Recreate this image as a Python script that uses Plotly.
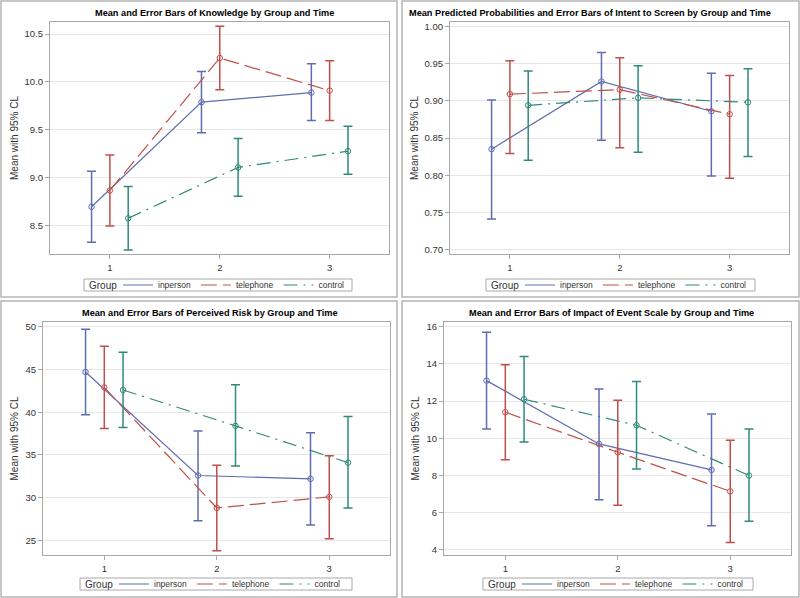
import plotly.graph_objects as go

W, H = 800, 598

times = [1, 2, 3]
groups = ["inperson", "telephone", "control"]

# Knowledge
know_mean = {"inperson": [8.70, 9.79, 9.89], "telephone": [8.87, 10.25, 9.91], "control": [8.58, 9.11, 9.28]}
know_upper = {"inperson": [9.07, 10.11, 10.19], "telephone": [9.24, 10.58, 10.22], "control": [8.91, 9.41, 9.54]}
know_lower = {"inperson": [8.33, 9.47, 9.60], "telephone": [8.50, 9.92, 9.60], "control": [8.25, 8.81, 9.04]}

# Intent to screen
intent_mean = {"inperson": [0.835, 0.926, 0.886], "telephone": [0.909, 0.915, 0.882], "control": [0.894, 0.904, 0.898]}
intent_upper = {"inperson": [0.901, 0.965, 0.937], "telephone": [0.954, 0.958, 0.934], "control": [0.940, 0.947, 0.943]}
intent_lower = {"inperson": [0.741, 0.847, 0.799], "telephone": [0.829, 0.837, 0.796], "control": [0.820, 0.831, 0.825]}

# Perceived risk
risk_mean = {"inperson": [44.7, 32.6, 32.2], "telephone": [42.9, 28.8, 30.1], "control": [42.6, 38.4, 34.1]}
risk_upper = {"inperson": [49.7, 37.8, 37.6], "telephone": [47.7, 33.8, 34.9], "control": [47.0, 43.2, 39.5]}
risk_lower = {"inperson": [39.7, 27.3, 26.8], "telephone": [38.1, 23.8, 25.2], "control": [38.2, 33.7, 28.8]}

# Impact of event scale
impact_mean = {"inperson": [13.1, 9.7, 8.3], "telephone": [11.4, 9.25, 7.15], "control": [12.1, 10.7, 8.0]}
impact_upper = {"inperson": [15.7, 12.65, 11.3], "telephone": [13.95, 12.05, 9.9], "control": [14.4, 13.05, 10.5]}
impact_lower = {"inperson": [10.5, 6.7, 5.3], "telephone": [8.85, 6.4, 4.4], "control": [9.8, 8.35, 5.55]}

titles = [
    "Mean and Error Bars of Knowledge by Group and Time",
    "Mean Predicted Probabilities and Error Bars of Intent to Screen by Group and Time",
    "Mean and Error Bars of Perceived Risk by Group and Time",
    "Mean and Error Bars of Impact of Event Scale by Group and Time",
]
y_title = "Mean with 95% CL"
legend_title = "Group"

FONT = "Liberation Sans, Arial, sans-serif"
colors = {"inperson": "#5f6db0", "telephone": "#c0504a", "control": "#2f8a7b"}
dashes = {"inperson": "solid", "telephone": "16px,6px", "control": "14px,6px,2px,6px"}
offsets = {"inperson": -1/6, "telephone": 0.0, "control": 1/6}

def px_x(p):
    return p / W

def px_y(p):
    return 1 - p / H

# leg = (box left, box right, box center y)
panels = [
    dict(mean=know_mean, up=know_upper, lo=know_lower, yr=[8.208, 10.625], dt=0.5, fmt=".1f",
         xd=[50, 389], yd=[22, 254], box=[1, 1, 397, 297], title_c=(214, 13), leg=(84, 352, 285)),
    dict(mean=intent_mean, up=intent_upper, lo=intent_lower, yr=[0.694, 1.006], dt=0.05, fmt=".2f",
         xd=[450, 789], yd=[22, 254], box=[402, 1, 799, 297], title_c=(590, 13), leg=(486, 755, 285)),
    dict(mean=risk_mean, up=risk_upper, lo=risk_lower, yr=[23.3, 50.55], dt=5, fmt="d",
         xd=[43, 390], yd=[322, 555], box=[1, 301, 397, 597], title_c=(210, 313), leg=(80, 352, 584)),
    dict(mean=impact_mean, up=impact_upper, lo=impact_lower, yr=[3.73, 16.25], dt=2, fmt="d",
         xd=[444, 791], yd=[322, 555], box=[402, 301, 799, 597], title_c=(611, 313), leg=(483, 753, 584)),
]

fig = go.Figure()
layout = dict(
    width=W, height=H, margin=dict(l=0, r=0, t=0, b=0, autoexpand=False),
    paper_bgcolor="white", plot_bgcolor="white",
    font=dict(family=FONT, size=9, color="#333333"),
    shapes=[], annotations=[],
)

for i, p in enumerate(panels):
    n = i + 1
    xa = "x" if n == 1 else f"x{n}"
    ya = "y" if n == 1 else f"y{n}"
    lg = "legend" if n == 1 else f"legend{n}"
    for g in groups:
        xs = [t + offsets[g] for t in times]
        m = p["mean"][g]
        up = [u - v for u, v in zip(p["up"][g], m)]
        lo = [v - l for l, v in zip(p["lo"][g], m)]
        fig.add_trace(go.Scatter(
            x=xs, y=m, mode="lines+markers", name=g, legend=lg,
            xaxis=xa, yaxis=ya,
            line=dict(color=colors[g], width=1.2, dash=dashes[g]),
            marker=dict(symbol="circle-open", size=5.5, color=colors[g], line=dict(width=1)),
            error_y=dict(type="data", array=up, arrayminus=lo, symmetric=False,
                         color=colors[g], thickness=1.5, width=4.5),
            showlegend=False,
        ))
        # legend entry (line sample only)
        fig.add_trace(go.Scatter(
            x=[None], y=[None], mode="lines", name=g, legend=lg,
            xaxis=xa, yaxis=ya,
            line=dict(color=colors[g], width=1.2, dash=dashes[g]),
            showlegend=True, hoverinfo="skip",
        ))
    axkey_x = "xaxis" if n == 1 else f"xaxis{n}"
    axkey_y = "yaxis" if n == 1 else f"yaxis{n}"
    layout[axkey_x] = dict(
        domain=[px_x(p["xd"][0]), px_x(p["xd"][1])], anchor=ya,
        range=[0.455, 3.54], tickvals=times, ticktext=[str(t) for t in times],
        showgrid=False, zeroline=False, showline=True, linecolor="#a8a8a8", linewidth=1.2,
        mirror=True, ticks="outside", ticklen=4, tickcolor="#a8a8a8",
        tickfont=dict(size=9.5, color="#333333"), automargin=False,
    )
    layout[axkey_y] = dict(
        domain=[px_y(p["yd"][1]), px_y(p["yd"][0])], anchor=xa,
        range=p["yr"], dtick=p["dt"], tickformat=p["fmt"],
        showgrid=True, gridcolor="#e6e6e6", gridwidth=1, zeroline=False,
        showline=True, linecolor="#a8a8a8", linewidth=1.2, mirror=True,
        ticks="outside", ticklen=4, tickcolor="#a8a8a8",
        tickfont=dict(size=9.5, color="#333333"), automargin=False,
        title=dict(text=y_title, font=dict(size=10, color="#333333"), standoff=4),
    )
    bl, br, bc = p["leg"]
    layout[lg] = dict(
        orientation="h", x=px_x(bl + 34), y=px_y(bc),
        xanchor="left", yanchor="middle", valign="middle",
        borderwidth=0, bgcolor="rgba(0,0,0,0)",
        font=dict(size=8.5, color="#333333"), itemwidth=30,
        tracegroupgap=0,
    )
    # legend frame and title
    layout["shapes"].append(dict(
        type="rect", xref="paper", yref="paper",
        x0=px_x(bl), x1=px_x(br), y0=px_y(bc + 6), y1=px_y(bc - 6),
        line=dict(color="#a8a8a8", width=1), fillcolor="white", layer="below",
    ))
    layout["annotations"].append(dict(
        text=legend_title, xref="paper", yref="paper",
        x=px_x(bl + 3), y=px_y(bc), xanchor="left", yanchor="middle", showarrow=False,
        font=dict(size=10, color="#333333", family=FONT),
    ))
    b = p["box"]
    layout["shapes"].append(dict(
        type="rect", xref="paper", yref="paper",
        x0=px_x(b[0]), x1=px_x(b[2]), y0=px_y(b[3]), y1=px_y(b[1]),
        line=dict(color="#b4b4b4", width=1.5), fillcolor="rgba(0,0,0,0)", layer="below",
    ))
    layout["annotations"].append(dict(
        text=f"<b>{titles[i]}</b>", xref="paper", yref="paper",
        x=px_x(p["title_c"][0]), y=px_y(p["title_c"][1]),
        xanchor="center", yanchor="middle", showarrow=False,
        font=dict(size=9.2, color="#000000", family=FONT),
    ))

fig.update_layout(**layout)
fig.write_html("out.html", config={"displayModeBar": False},
               post_script="document.body.style.margin='0';document.body.style.padding='0';")
